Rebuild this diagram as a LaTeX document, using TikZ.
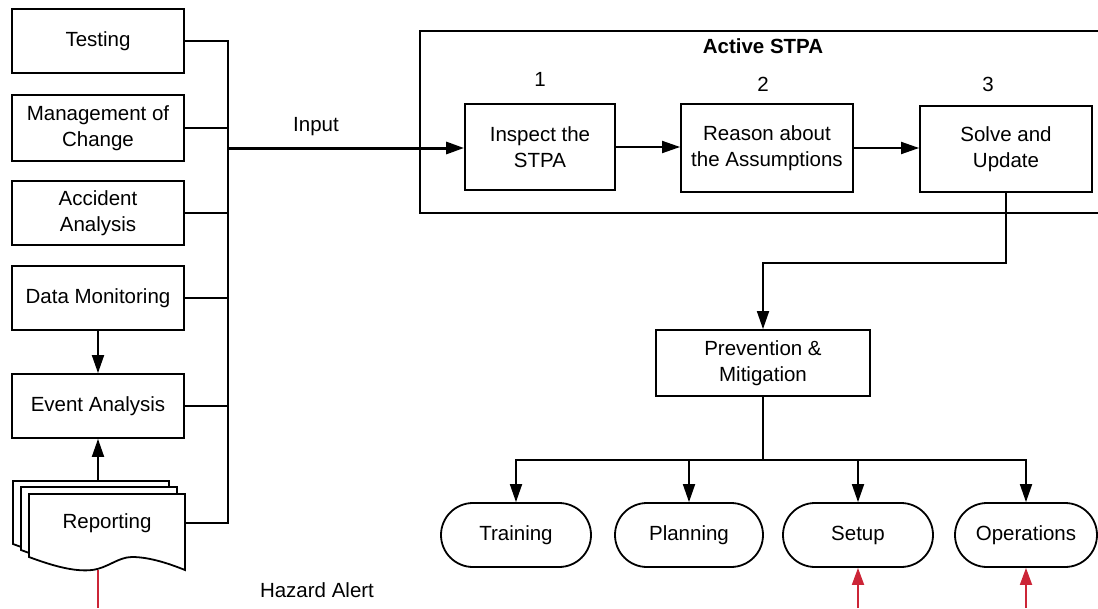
\documentclass[tikz,border=0pt]{standalone}
\usepackage{fontspec}
\setmainfont{Liberation Sans}
\usetikzlibrary{arrows.meta}

\definecolor{alertred}{RGB}{204,37,55}

\tikzset{
  every node/.style={font=\fontsize{20.5}{25.5}\selectfont},
  stroke/.style={line width=1.8pt, line cap=rect},
  procbox/.style={stroke, draw, rectangle, inner sep=0pt, align=center, fill=white},
  termbox/.style={stroke, draw, rectangle, rounded corners=32pt, inner sep=0pt,
                  minimum width=150pt, minimum height=64pt, align=center, fill=white},
  tip/.style={-{Triangle[length=18pt,width=12pt]}},
  link/.style={stroke, line cap=butt},
  alert/.style={line width=1.8pt, draw=alertred, -{Triangle[length=17pt,width=12pt]}, color=alertred},
  docpage/.pic={
    \draw[stroke, line cap=butt, line join=miter, fill=white]
      (0,0) -- (156,0) -- (156,76)
      .. controls (141,70) and (121,63) .. (103,63)
      .. controls (89,63) and (79,74) .. (63,76)
      .. controls (46,78) and (24,72) .. (0,63) -- cycle;
  }
}

\begin{document}
\begin{tikzpicture}[x=1pt, y=-1pt]
\useasboundingbox (0,0) rectangle (1098,608);

% --- input sources ---------------------------------------------------------
\node[procbox, minimum width=172pt, minimum height=64pt] (test) at (98,41) {Testing};
\node[procbox, minimum width=172pt, minimum height=66pt] (moc) at (98,128) {Management of\\Change};
\node[procbox, minimum width=172pt, minimum height=64pt] (acc) at (98,213) {Accident\\Analysis};
\node[procbox, minimum width=172pt, minimum height=64pt] (dm) at (98,298) {Data Monitoring};
\node[procbox, minimum width=172pt, minimum height=64pt] (ev) at (98,406) {Event Analysis};

% stacked document pages for reporting
\pic at (13,481) {docpage};
\pic at (21,487) {docpage};
\pic at (29,494) {docpage};
\node (rep) at (107,523) {Reporting};
\coordinate (repTop) at (98,481);
\coordinate (repRight) at (185,523);
\coordinate (repBottom) at (98,570);
\coordinate (repOut) at (98,608);

% collecting bus
\coordinate (busTop) at (228,41);
\coordinate (busBot) at (228,523);
\coordinate (busIn) at (228,148);

\draw[link] (test.east) -- (busTop) -- (busBot) -- (repRight);
\draw[link] (moc.east) -- (moc.east -| busTop);
\draw[link] (acc.east) -- (acc.east -| busTop);
\draw[link] (dm.east) -- (dm.east -| busTop);
\draw[link] (ev.east) -- (ev.east -| busTop);

\draw[link, tip] (dm.south) -- (ev.north);
\draw[link, tip] (repTop) -- (ev.south);

% --- Active STPA ------------------------------------------------------------
\coordinate (frameTR) at (1098,31);
\coordinate (frameTL) at (420,31);
\coordinate (frameBL) at (420,213);
\coordinate (frameBR) at (1098,213);
\draw[link, line join=miter] (frameTR) -- (frameTL) -- (frameBL) -- (frameBR);
\node[font=\fontsize{20.5}{25.5}\selectfont\bfseries] (title) at (763,46) {Active STPA};

\node[procbox, minimum width=150pt, minimum height=86pt] (ins) at (540,147) {Inspect the\\STPA};
\node[procbox, minimum width=172pt, minimum height=88pt] (rea) at (767,148) {Reason about\\the Assumptions};
\node[procbox, minimum width=172pt, minimum height=86pt] (sol) at (1006,149) {Solve and\\Update};

\node (n1) at (540,79) {1};
\node (n2) at (763,84) {2};
\node (n3) at (988,84) {3};

\draw[line width=3pt, tip] (busIn) -- (busIn -| ins.west);
\node (inlabel) at (316,127) {Input};

\draw[link, tip] (ins.east |- 0,147) -- (rea.west |- 0,147);
\draw[link, tip] (rea.east |- 0,148) -- (sol.west |- 0,148);

% --- prevention and its outcomes -----------------------------------------------
\node[procbox, minimum width=214pt, minimum height=66pt] (prev) at (763,363) {Prevention \&\\Mitigation};
\draw[link, tip] (sol.south) -- ++(0,70) -| (prev.north);

\node[termbox] (tr) at (516,535) {Training};
\node[termbox, minimum width=148pt] (pl) at (689,535) {Planning};
\node[termbox] (se) at (858,535) {Setup};
\node[termbox, minimum width=142pt] (op) at (1026,535) {Operations};

\coordinate (fork) at (763,460);
\draw[link] (prev.south) -- (fork);
\draw[link, tip] (fork) -| (tr.north);
\draw[link, tip] (fork) -| (pl.north);
\draw[link, tip] (fork) -| (se.north);
\draw[link, tip] (fork) -| (op.north);

% --- hazard alerts -------------------------------------------------------------
\coordinate (seIn) at (858,608);
\coordinate (opIn) at (1026,608);
\draw[line width=1.8pt, alertred] (repBottom) -- (repOut);
\draw[alert] (seIn) -- (se.south);
\draw[alert] (opIn) -- (op.south);
\node (hazard) at (317,590) {Hazard Alert};

\end{tikzpicture}
\end{document}
